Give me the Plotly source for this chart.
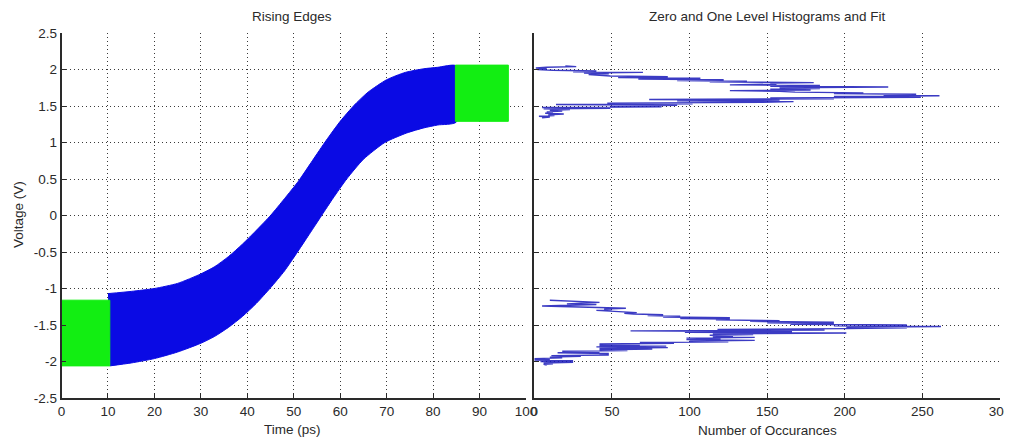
import plotly.graph_objects as go

# Rising edge envelope (time in ps, voltage in V)
edge_t_upper = [10, 15, 20, 25, 30, 33, 36, 39, 42, 45, 48, 51, 54, 57, 60, 63, 66, 70, 74, 78, 81, 85]
edge_v_upper = [-1.07, -1.04, -1.0, -0.93, -0.8, -0.7, -0.56, -0.39, -0.2, 0.0, 0.23, 0.47, 0.75, 1.03, 1.29,
                1.51, 1.69, 1.86, 1.96, 2.01, 2.03, 2.05]
edge_t_lower = [10.4, 15, 20, 25, 30, 33, 36, 39, 42, 45, 48, 50.6, 53, 56, 58.5, 61.4, 65, 69.6, 74.3, 78, 81, 85]
edge_v_lower = [-2.06, -2.02, -1.96, -1.87, -1.75, -1.655, -1.53, -1.38, -1.2, -0.99, -0.76, -0.52, -0.29, 0.0,
                0.24, 0.5, 0.77, 1.0, 1.13, 1.2, 1.24, 1.28]

# Zero / one level sample windows
zero_t = [0, 10.4]
zero_v = [-2.06, -1.16]
one_t = [84.8, 96.2]
one_v = [1.29, 2.06]

# One-level histogram (voltage bin, count)
hist_one_v = [2.05, 2.04, 2.03, 2.02, 2.01, 2.00, 1.99, 1.98, 1.97, 1.96, 1.95, 1.94, 1.93, 1.92, 1.91, 1.90,
              1.89, 1.88, 1.87, 1.86, 1.85, 1.84, 1.83, 1.82, 1.81, 1.80, 1.79, 1.78, 1.77, 1.76, 1.75, 1.74,
              1.73, 1.72, 1.71, 1.70, 1.69, 1.68, 1.67, 1.66, 1.65, 1.64, 1.63, 1.62, 1.61, 1.60, 1.59, 1.58,
              1.57, 1.56, 1.55, 1.54, 1.53, 1.52, 1.51, 1.50, 1.49, 1.48, 1.47, 1.46, 1.45, 1.44, 1.43, 1.42,
              1.41, 1.40, 1.39, 1.38, 1.37, 1.36, 1.35, 1.34]
hist_one_n = [20, 27, 8, 1, 8, 2, 12, 40, 25, 70, 32, 48, 35, 40, 49, 86,
              54, 107, 67, 122, 92, 137, 113, 180, 152, 156, 126, 184, 152, 228, 158, 184,
              152, 178, 126, 158, 168, 212, 193, 246, 225, 261, 193, 249, 152, 193, 74, 158,
              92, 167, 147, 47, 102, 14, 92, 49, 82, 5, 49, 6, 23, 10, 18, 8,
              12, 7, 19, 9, 13, 3, 10, 5]

# Zero-level histogram (voltage bin, count)
hist_zero_v = [-1.16, -1.17, -1.18, -1.19, -1.20, -1.21, -1.22, -1.23, -1.24, -1.25, -1.26, -1.27, -1.28,
               -1.29, -1.30, -1.31, -1.32, -1.33, -1.34, -1.35, -1.36, -1.37, -1.38, -1.39, -1.40, -1.41,
               -1.42, -1.43, -1.44, -1.45, -1.46, -1.47, -1.48, -1.49, -1.50, -1.51, -1.52, -1.53, -1.54,
               -1.55, -1.56, -1.57, -1.58, -1.59, -1.60, -1.61, -1.62, -1.63, -1.64, -1.65, -1.66, -1.67,
               -1.68, -1.69, -1.70, -1.71, -1.72, -1.73, -1.74, -1.75, -1.76, -1.77, -1.78, -1.79, -1.80,
               -1.81, -1.82, -1.83, -1.84, -1.85, -1.86, -1.87, -1.88, -1.89, -1.90, -1.91, -1.92, -1.93,
               -1.94, -1.95, -1.96, -1.97, -1.98, -1.99, -2.00, -2.01, -2.02, -2.03, -2.04, -2.05]
hist_zero_n = [10, 25, 25, 42, 30, 21, 40, 23, 5, 23, 40, 59, 45,
               50, 40, 49, 55, 66, 58, 64, 83, 73, 94, 83, 126, 94,
               126, 117, 158, 139, 193, 150, 193, 165, 240, 193, 262, 201, 240,
               201, 118, 187, 62, 166, 97, 201, 115, 141, 113, 128, 115, 142,
               98, 120, 98, 142, 100, 125, 68, 90, 42, 68, 42, 85, 40,
               86, 42, 76, 42, 60, 18, 42, 15, 48, 42, 48, 11, 30,
               10, 18, 0, 10, 0, 25, 4, 25, 6, 12, 6, 8]

volt_ticks = [-2.5, -2, -1.5, -1, -0.5, 0, 0.5, 1, 1.5, 2, 2.5]
volt_labels = ['-2.5', '-2', '-1.5', '-1', '-0.5', '0', '0.5', '1', '1.5', '2', '2.5']
time_ticks = [0, 10, 20, 30, 40, 50, 60, 70, 80, 90, 100]
count_ticks = [0, 50, 100, 150, 200, 250, 300]

# page body has an 8px margin, so the figure is drawn 8px in from the window corner
PAD = 8
W, H = 1012 - PAD, 439 - PAD
ink = '#2a2a2a'
font = dict(family='Liberation Sans, Arial, sans-serif', size=13.5, color=ink)


def px(sx):
    return (sx - PAD) / W


def py(sy):
    return 1 - (sy - PAD) / H


fig = go.Figure()

# blue band of overlaid rising edges
fig.add_trace(go.Scatter(
    x=edge_t_upper + edge_t_lower[::-1],
    y=edge_v_upper + edge_v_lower[::-1],
    mode='lines', fill='toself', fillcolor='rgb(10,10,228)',
    line=dict(width=1, color='rgb(10,10,228)', shape='spline', smoothing=0.6),
    xaxis='x', yaxis='y', showlegend=False, hoverinfo='skip'
))

# green level windows
for tt, vv in [(zero_t, zero_v), (one_t, one_v)]:
    fig.add_trace(go.Scatter(
        x=[tt[0], tt[1], tt[1], tt[0], tt[0]],
        y=[vv[0], vv[0], vv[1], vv[1], vv[0]],
        mode='lines', fill='toself', fillcolor='rgb(18,238,18)',
        line=dict(width=1, color='rgb(18,238,18)'),
        xaxis='x', yaxis='y', showlegend=False, hoverinfo='skip'
    ))

# histograms
for nn, vv in [(hist_one_n, hist_one_v), (hist_zero_n, hist_zero_v)]:
    fig.add_trace(go.Scatter(
        x=nn, y=vv, mode='lines',
        line=dict(width=1.4, color='rgba(25,25,185,0.85)'),
        xaxis='x2', yaxis='y2', showlegend=False
    ))

axis_common = dict(showgrid=True, gridcolor='#3a3a3a', griddash='1px,3px', gridwidth=1,
                   zeroline=False, showline=True, linecolor=ink, linewidth=1.5,
                   ticks='inside', ticklen=5, tickcolor=ink, tickfont=font,
                   automargin=False)

fig.update_layout(
    width=W, height=H,
    margin=dict(l=0, r=0, t=0, b=0),
    paper_bgcolor='white', plot_bgcolor='white',
    font=font,
    xaxis=dict(domain=[px(61.5), px(526)], range=[0, 100], tickvals=time_ticks, anchor='y', **axis_common),
    yaxis=dict(domain=[py(398), py(33)], range=[-2.5, 2.5], tickvals=volt_ticks, ticktext=volt_labels,
               anchor='x', **axis_common),
    xaxis2=dict(domain=[px(534.3), px(1000)], range=[0, 300], tickvals=count_ticks, anchor='y2', **axis_common),
    yaxis2=dict(domain=[py(398), py(33)], range=[-2.5, 2.5], tickvals=volt_ticks, showticklabels=False,
                anchor='x2', **axis_common),
    annotations=[
        dict(text='Rising Edges', x=px(292), y=py(17)),
        dict(text='Zero and One Level Histograms and Fit', x=px(767), y=py(16)),
        dict(text='Time (ps)', x=px(292), y=py(429)),
        dict(text='Number of Occurances', x=px(767), y=py(430)),
        dict(text='Voltage (V)', x=px(18), y=py(215), textangle=-90),
    ],
)
fig.update_annotations(xref='paper', yref='paper', showarrow=False, font=font,
                       xanchor='center', yanchor='middle')

fig.write_html("out.html")
